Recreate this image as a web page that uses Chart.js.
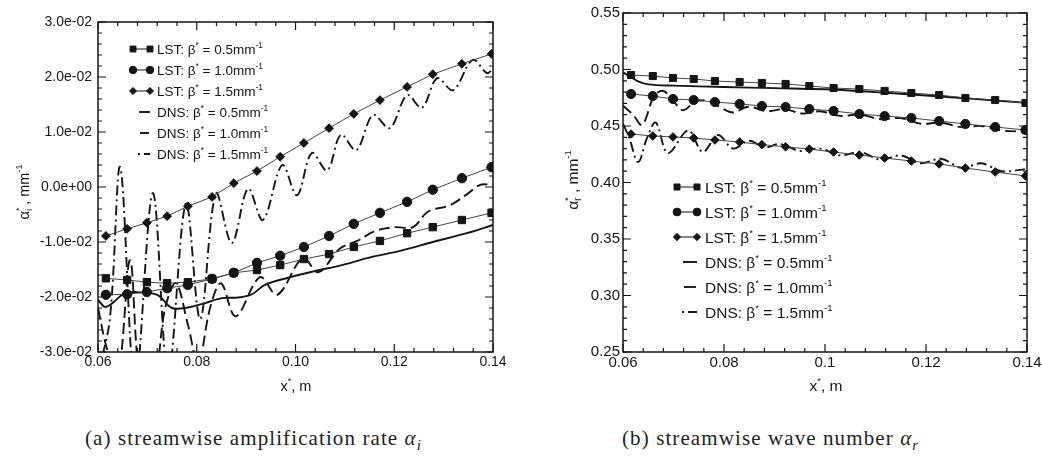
<!DOCTYPE html>
<html>
<head>
<meta charset="utf-8">
<script src="https://cdn.jsdelivr.net/npm/chart.js@4.4.1/dist/chart.umd.min.js"></script>
<style>
  body { margin: 0; background: #fff; }
  #wrap { position: relative; width: 1042px; height: 459px; overflow: hidden; background: #fff; }
  #chartA { position: absolute; left: 0; top: 0; }
  #chartB { position: absolute; left: 520px; top: 0; }
  .cap { position: absolute; top: 426px; font-family: "Liberation Serif", "DejaVu Serif", serif; font-size: 21px; letter-spacing: 1.1px; color: #222; white-space: nowrap; line-height: 24px; }
  .cap sub { font-size: 15px; }
</style>
</head>
<body>
<div id="wrap">
  <canvas id="chartA" width="520" height="400"></canvas>
  <canvas id="chartB" width="522" height="400"></canvas>
  <div class="cap" style="left:85px">(a) streamwise amplification rate <i>α</i><sub><i>i</i></sub></div>
  <div class="cap" style="left:622px">(b) streamwise wave number <i>α</i><sub><i>r</i></sub></div>
</div>
<script>
// stations of the LST markers (x*, m), same for both panels
const lstX = [0.0616, 0.0659, 0.0699, 0.0740, 0.0782, 0.0831, 0.0875, 0.0922, 0.0969, 0.1017, 0.1068, 0.1118, 0.1171, 0.1226, 0.1278, 0.1337, 0.1397];

// (a) amplification rate alpha_i
const aiLst05 = [-0.0166, -0.0169, -0.0173, -0.0175, -0.0173, -0.0167, -0.0156, -0.0151, -0.0142, -0.0131, -0.0122, -0.0109, -0.0098, -0.0084, -0.0073, -0.0060, -0.0047];
const aiLst10 = [-0.0196, -0.0195, -0.0191, -0.0184, -0.0178, -0.0167, -0.0156, -0.0138, -0.0125, -0.0109, -0.0089, -0.0067, -0.0047, -0.0027, -0.0005, 0.0016, 0.0036];
const aiLst15 = [-0.0089, -0.0076, -0.0065, -0.0053, -0.0035, -0.0018, 0.0007, 0.0029, 0.0055, 0.0080, 0.0107, 0.0133, 0.0158, 0.0182, 0.0205, 0.0224, 0.0242];

const aiDns05X = [0.0600, 0.0614, 0.0628, 0.0655, 0.0695, 0.0722, 0.0750, 0.0782, 0.0817, 0.0851, 0.0884, 0.0912, 0.0938, 0.0985, 0.1039, 0.1094, 0.1151, 0.1212, 0.1278, 0.1347, 0.1400];
const aiDns05  = [-0.0205, -0.0218, -0.0212, -0.0193, -0.0192, -0.0197, -0.0220, -0.0219, -0.0211, -0.0202, -0.0201, -0.0195, -0.0178, -0.0165, -0.0153, -0.0142, -0.0128, -0.0116, -0.0100, -0.0084, -0.0069];

const aiDns10X = [0.0600, 0.0620, 0.0641, 0.0665, 0.0687, 0.0715, 0.0736, 0.0758, 0.0782, 0.0803, 0.0827, 0.0849, 0.0879, 0.0928, 0.0963, 0.1015, 0.1046, 0.1090, 0.1125, 0.1161, 0.1202, 0.1238, 0.1268, 0.1313, 0.1349, 0.1374, 0.1400];
const aiDns10  = [-0.022, -0.030, -0.034, -0.0133, -0.036, -0.034, -0.022, -0.0175, -0.025, -0.032, -0.022, -0.0175, -0.0235, -0.0164, -0.0196, -0.0129, -0.0155, -0.0112, -0.0098, -0.0080, -0.0073, -0.0073, -0.0045, -0.0033, -0.0012, 0.0004, 0.0004];

const aiDns15X = [0.0600, 0.0624, 0.0645, 0.0675, 0.0711, 0.0742, 0.0778, 0.0807, 0.0839, 0.0871, 0.0904, 0.0934, 0.0973, 0.1003, 0.1033, 0.1064, 0.1092, 0.1123, 0.1157, 0.1191, 0.1226, 0.1256, 0.1287, 0.1319, 0.1359, 0.1388, 0.1400];
const aiDns15  = [-0.034, -0.024, 0.0036, -0.036, -0.0011, -0.034, -0.003, -0.024, -0.0012, -0.0102, -0.0003, -0.0060, 0.0040, -0.0015, 0.0062, 0.0030, 0.0095, 0.0067, 0.0131, 0.0107, 0.0167, 0.0144, 0.0198, 0.0176, 0.0231, 0.0207, 0.0215];

// (b) wave number alpha_r
const arLst05 = [0.4951, 0.4942, 0.4925, 0.4916, 0.4898, 0.4889, 0.4881, 0.4872, 0.4854, 0.4836, 0.4827, 0.4810, 0.4792, 0.4774, 0.4748, 0.4730, 0.4704];
const arLst10 = [0.4783, 0.4765, 0.4739, 0.4730, 0.4712, 0.4695, 0.4677, 0.4668, 0.4650, 0.4633, 0.4606, 0.4588, 0.4571, 0.4544, 0.4518, 0.4491, 0.4465];
const arLst15 = [0.4429, 0.4412, 0.4403, 0.4394, 0.4376, 0.4358, 0.4335, 0.4316, 0.4296, 0.4270, 0.4243, 0.4217, 0.4190, 0.4164, 0.4128, 0.4093, 0.4058];

const arDns05X = [0.0600, 0.0615, 0.0630, 0.0650, 0.0700, 0.0800, 0.0900, 0.1000, 0.1100, 0.1200, 0.1300, 0.1400];
const arDns05  = [0.4975, 0.4935, 0.4895, 0.4868, 0.4857, 0.4845, 0.4835, 0.4825, 0.4800, 0.4770, 0.4738, 0.4705];

const arDns10X = [0.0600, 0.0620, 0.0638, 0.0662, 0.0680, 0.0700, 0.0719, 0.0745, 0.0770, 0.0795, 0.0818, 0.0848, 0.0885, 0.0920, 0.0955, 0.0990, 0.1030, 0.1070, 0.1110, 0.1150, 0.1190, 0.1230, 0.1270, 0.1310, 0.1350, 0.1400];
const arDns10  = [0.468, 0.460, 0.451, 0.477, 0.481, 0.472, 0.464, 0.472, 0.472, 0.466, 0.462, 0.467, 0.463, 0.465, 0.461, 0.463, 0.459, 0.460, 0.456, 0.457, 0.452, 0.453, 0.449, 0.450, 0.446, 0.445];

const arDns15X = [0.0600, 0.0612, 0.0630, 0.0648, 0.0665, 0.0689, 0.0729, 0.0758, 0.0788, 0.0818, 0.0850, 0.0880, 0.0910, 0.0950, 0.0990, 0.1030, 0.1070, 0.1110, 0.1150, 0.1190, 0.1230, 0.1270, 0.1310, 0.1350, 0.1400];
const arDns15  = [0.452, 0.440, 0.418, 0.440, 0.453, 0.426, 0.446, 0.427, 0.442, 0.430, 0.437, 0.431, 0.434, 0.428, 0.430, 0.424, 0.427, 0.420, 0.424, 0.417, 0.421, 0.413, 0.417, 0.410, 0.412];

// axes
const xTicks = [0.06, 0.08, 0.10, 0.12, 0.14];
const aiTicks = [-0.03, -0.02, -0.01, 0, 0.01, 0.02, 0.03];
const arTicks = [0.25, 0.30, 0.35, 0.40, 0.45, 0.50, 0.55];
const betaLabels = ['0.5', '1.0', '1.5'];

const FONT = '"Liberation Sans", Arial, Helvetica, sans-serif';
const INK = '#151515';

const pts = (xs, ys) => xs.map((x, i) => ({ x: x, y: ys[i] }));

function lstSet(xs, ys, style, r) {
  return {
    data: pts(xs, ys), borderColor: '#444', borderWidth: 1, tension: 0,
    pointStyle: style, pointRadius: r, pointBackgroundColor: INK, pointBorderColor: INK, pointBorderWidth: 1
  };
}
function dnsSet(xs, ys, dash) {
  return { data: pts(xs, ys), borderColor: INK, borderWidth: 1.9, borderDash: dash, pointRadius: 0, tension: 0.35 };
}

const DASH = [11, 5];
const DASHDOT = [10, 4, 2, 4];

// text with super/subscripts
function richText(ctx, parts, x, y, size, draw) {
  let cx = x;
  for (const p of parts) {
    const k = p[1] || '';
    let s = size, dy = 0;
    if (k === 'sup') { s = size * 0.62; dy = -size * 0.45; }
    if (k === 'sub') { s = size * 0.68; dy = size * 0.22; }
    ctx.font = s + 'px ' + FONT;
    const w = ctx.measureText(p[0]).width;
    if (draw) ctx.fillText(p[0], cx, y + dy);
    if (!p[2]) cx += w;
  }
  return cx - x;
}

function legendParts(kind, b) {
  return [[kind + ': β'], ['*', 'sup'], [' = ' + b + 'mm'], ['-1', 'sup']];
}

function decorPlugin(o) {
  return {
    id: 'decor',
    afterDatasetsDraw(chart) {
      const ctx = chart.ctx, a = chart.chartArea, xs = chart.scales.x, ys = chart.scales.y;
      ctx.save();
      // frame
      ctx.strokeStyle = INK;
      ctx.lineWidth = 1.5;
      ctx.strokeRect(a.left, a.top, a.right - a.left, a.bottom - a.top);
      // inward ticks on all four sides
      ctx.lineWidth = 1.2;
      ctx.beginPath();
      const nx = Math.round((xs.max - xs.min) / o.xMinor);
      for (let i = 0; i <= nx; i++) {
        const v = xs.min + i * o.xMinor;
        const major = xTicks.some(t => Math.abs(t - v) < o.xMinor / 10);
        const len = major ? 8 : 4;
        const px = xs.getPixelForValue(v);
        ctx.moveTo(px, a.bottom); ctx.lineTo(px, a.bottom - len);
        ctx.moveTo(px, a.top); ctx.lineTo(px, a.top + len);
      }
      const ny = Math.round((ys.max - ys.min) / o.yMinor);
      for (let i = 0; i <= ny; i++) {
        const v = ys.min + i * o.yMinor;
        const major = o.yTicks.some(t => Math.abs(t - v) < o.yMinor / 10);
        const len = major ? 8 : 4;
        const py = ys.getPixelForValue(v);
        ctx.moveTo(a.left, py); ctx.lineTo(a.left + len, py);
        ctx.moveTo(a.right, py); ctx.lineTo(a.right - len, py);
      }
      ctx.stroke();

      // legend
      ctx.fillStyle = INK;
      ctx.textBaseline = 'alphabetic';
      const L = o.legend;
      const rows = [];
      betaLabels.forEach((b, i) => rows.push({ kind: 'LST', b: b, i: i }));
      betaLabels.forEach((b, i) => rows.push({ kind: 'DNS', b: b, i: i }));
      rows.forEach((r, k) => {
        const cy = L.y + k * L.dy;
        const x1 = L.x, x2 = L.x + L.w;
        ctx.strokeStyle = INK;
        if (r.kind === 'LST') {
          ctx.lineWidth = 1; ctx.setLineDash([]);
          ctx.beginPath(); ctx.moveTo(x1, cy); ctx.lineTo(x2, cy); ctx.stroke();
          const ds = chart.data.datasets[r.i];
          const po = { pointStyle: ds.pointStyle, radius: ds.pointRadius * L.mk, borderWidth: 1 };
          ctx.fillStyle = INK;
          Chart.helpers.drawPoint(ctx, po, x1, cy);
          Chart.helpers.drawPoint(ctx, po, x2, cy);
        } else {
          ctx.lineWidth = 1.9;
          ctx.beginPath();
          if (r.i === 0) { ctx.moveTo(x1 + 6, cy); ctx.lineTo(x2, cy); }
          if (r.i === 1) { ctx.moveTo(x1 + 7, cy); ctx.lineTo(x2 - 1, cy); }
          if (r.i === 2) { ctx.moveTo(x1 + 5, cy); ctx.lineTo(x1 + 7, cy); ctx.moveTo(x1 + 11, cy); ctx.lineTo(x2, cy); }
          ctx.stroke();
        }
        ctx.fillStyle = INK;
        ctx.textAlign = 'left';
        richText(ctx, legendParts(r.kind, r.b), L.tx, cy + L.size * 0.36, L.size, true);
      });

      // y title (rotated)
      const yt = o.yTitle;
      ctx.save();
      ctx.translate(yt.x, yt.y);
      ctx.rotate(-Math.PI / 2);
      const yw = richText(ctx, yt.parts, 0, 0, yt.size, false);
      richText(ctx, yt.parts, -yw / 2, 0, yt.size, true);
      ctx.restore();

      // x title
      const xt = o.xTitle;
      const xw = richText(ctx, xt.parts, 0, 0, xt.size, false);
      richText(ctx, xt.parts, xt.x - xw / 2, xt.y, xt.size, true);
      ctx.restore();
    }
  };
}

function fmtE(v) {
  const s = v.toExponential(1).split('e');
  const e = parseInt(s[1], 10);
  return s[0] + 'e' + (e < 0 ? '-' : '+') + String(Math.abs(e)).padStart(2, '0');
}

function makeChart(id, o) {
  return new Chart(document.getElementById(id), {
    type: 'line',
    data: { datasets: o.datasets },
    options: {
      responsive: false, animation: false, events: [],
      layout: { padding: o.padding },
      plugins: { legend: { display: false }, tooltip: { enabled: false } },
      scales: {
        x: {
          type: 'linear', min: 0.06, max: 0.14,
          grid: { display: false, drawTicks: false }, border: { display: false },
          afterBuildTicks: s => { s.ticks = xTicks.map(v => ({ value: v })); },
          afterFit: s => { s.height = 48; s.paddingLeft = 0; s.paddingRight = 0; },
          ticks: { padding: 2, color: INK, font: { family: FONT, size: o.tickSize }, maxRotation: 0, autoSkip: false, callback: o.xFmt }
        },
        y: {
          type: 'linear', min: o.yTicks[0], max: o.yTicks[o.yTicks.length - 1],
          grid: { display: false, drawTicks: false }, border: { display: false },
          afterBuildTicks: s => { s.ticks = o.yTicks.map(v => ({ value: v })); },
          afterFit: s => { s.width = o.yWidth; s.paddingTop = 0; s.paddingBottom = 0; },
          ticks: { padding: o.yPad, color: INK, font: { family: FONT, size: o.tickSize }, autoSkip: false, callback: o.yFmt }
        }
      }
    },
    plugins: [decorPlugin(o)]
  });
}

// (a)
makeChart('chartA', {
  datasets: [
    lstSet(lstX, aiLst05, 'rect', 5.2),
    lstSet(lstX, aiLst10, 'circle', 4.7),
    lstSet(lstX, aiLst15, 'rectRot', 4.4),
    dnsSet(aiDns05X, aiDns05, []),
    dnsSet(aiDns10X, aiDns10, DASH),
    dnsSet(aiDns15X, aiDns15, DASHDOT)
  ],
  padding: { top: 22, right: 27, left: 0, bottom: 0 },
  yWidth: 98, yPad: 6, tickSize: 14,
  yTicks: aiTicks, xMinor: 0.004, yMinor: 0.002,
  xFmt: v => v.toFixed(2), yFmt: v => fmtE(v),
  legend: { x: 133, w: 17, tx: 157, y: 49, dy: 21, size: 13.5, mk: 0.8 },
  yTitle: { x: 29, y: 192, size: 14.5, parts: [['α'], ['*', 'sup', true], ['i', 'sub'], [' , mm'], ['-1', 'sup']] },
  xTitle: { x: 296, y: 391, size: 14.5, parts: [['x'], ['*', 'sup'], [', m']] }
});

// (b)
makeChart('chartB', {
  datasets: [
    lstSet(lstX, arLst05, 'rect', 5.0),
    lstSet(lstX, arLst10, 'circle', 4.6),
    lstSet(lstX, arLst15, 'rectRot', 4.3),
    dnsSet(arDns05X, arDns05, []),
    dnsSet(arDns10X, arDns10, DASH),
    dnsSet(arDns15X, arDns15, DASHDOT)
  ],
  padding: { top: 13, right: 15, left: 0, bottom: 0 },
  yWidth: 103, yPad: 3, tickSize: 15,
  yTicks: arTicks, xMinor: 0.004, yMinor: 0.01,
  xFmt: v => String(Number(v.toFixed(2))), yFmt: v => v.toFixed(2),
  legend: { x: 157, w: 20, tx: 185, y: 187, dy: 25, size: 15.5, mk: 0.85 },
  yTitle: { x: 58, y: 180, size: 15.5, parts: [['α'], ['*', 'sup', true], ['r', 'sub'], [' , mm'], ['-1', 'sup']] },
  xTitle: { x: 306, y: 391, size: 15.5, parts: [['x'], ['*', 'sup'], [', m']] }
});
</script>
</body>
</html>
